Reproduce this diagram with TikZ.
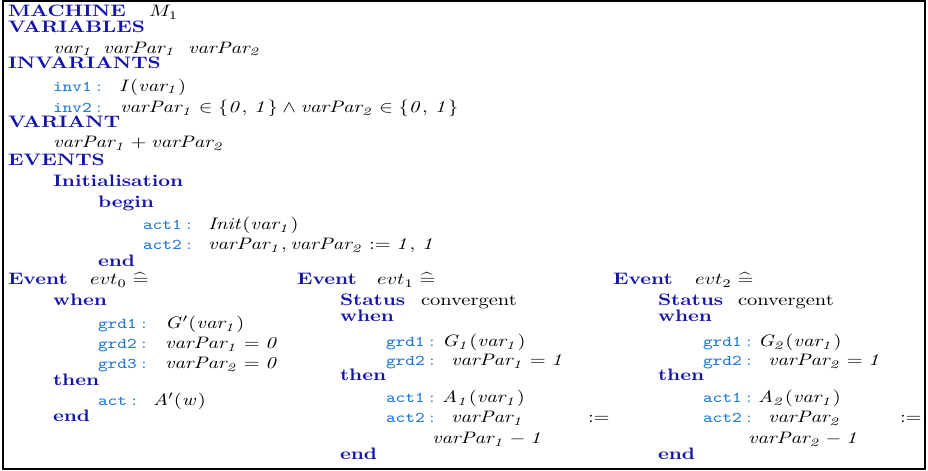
\documentclass[tikz,border=0pt]{standalone}
\usepackage{amsmath,amssymb}
\definecolor{kwblue}{RGB}{20,20,170}
\definecolor{lblblue}{RGB}{30,120,210}
\newcommand{\lblcolon}{\hspace{2.2pt}$:$}
\tikzset{
  txt/.style={anchor=base west, inner sep=0pt, outer sep=0pt},
  kw/.style={txt, font=\bfseries, text=kwblue},
  lbl/.style={txt, font=\small\ttfamily, text=lblblue},
  frame/.style={line width=1pt, draw=black},
}
\begin{document}
\begin{tikzpicture}[x=0.4878pt, y=-0.4878pt]
\useasboundingbox (0,0) rectangle (928,471);
\coordinate (frameTL) at (3,1.2);
\coordinate (frameBR) at (925,469);
\draw[frame] (frameTL) rectangle (frameBR);
% text is set slightly condensed in height
\begin{scope}[yscale=0.81, transform shape, y=-0.6022pt]
% ---- machine header
\node[kw]  (kMach)    at (8,16.7)   {MACHINE};
\node[txt] (mName)    at (149,16.7) {$M_1$};
\node[kw]  (kVars)    at (8,32.3)   {VARIABLES};
\node[txt] (v1)       at (53,53.3)  {$\mathit{var_1}$};
\node[txt] (v2)       at (103,53.3) {$\mathit{varPar_1}$};
\node[txt] (v3)       at (188,53.3) {$\mathit{varPar_2}$};
\node[kw]  (kInv)     at (8,69)     {INVARIANTS};
\node[lbl] (lInv1)    at (53,91.5)  {inv1\lblcolon};
\node[txt] (fInv1)    at (119,91.5) {$\mathit{I(var_1)}$};
\node[lbl] (lInv2)    at (53,113)   {inv2\lblcolon};
\node[txt] (fInv2)    at (120,113)  {$\mathit{varPar_1 \in \{0,\,1\} \land varPar_2 \in \{0,\,1\}}$};
\node[kw]  (kVariant) at (8,128)    {VARIANT};
\node[txt] (fVariant) at (53,148)   {$\mathit{varPar_1 + varPar_2}$};
\node[kw]  (kEvents)  at (8,166)    {EVENTS};
% ---- initialisation
\node[kw]  (kInit)    at (53,187)   {Initialisation};
\node[kw]  (kBegin)   at (98,208)   {begin};
\node[lbl] (lIact1)   at (143,230)  {act1\lblcolon};
\node[txt] (fIact1)   at (208,230)  {$\mathit{Init(var_1)}$};
\node[lbl] (lIact2)   at (143,250)  {act2\lblcolon};
\node[txt] (fIact2)   at (208,250)  {$\mathit{varPar_1, varPar_2 := 1,\,1}$};
\node[kw]  (kIend)    at (98,266.7) {end};
% ---- event evt0
\node[kw]  (e0)     at (8,285)   {Event};
\node[txt] (e0n)    at (90,285)  {$evt_0 \mathrel{\widehat{=}}$};
\node[kw]  (e0when) at (53,306)  {when};
\node[lbl] (e0g1l)  at (98,329)  {grd1\lblcolon};
\node[txt] (e0g1)   at (165,329) {$\mathit{G}'(\mathit{var_1})$};
\node[lbl] (e0g2l)  at (98,349)  {grd2\lblcolon};
\node[txt] (e0g2)   at (165,349) {$\mathit{varPar_1 = 0}$};
\node[lbl] (e0g3l)  at (98,369)  {grd3\lblcolon};
\node[txt] (e0g3)   at (165,369) {$\mathit{varPar_2 = 0}$};
\node[kw]  (e0then) at (53,386)  {then};
\node[lbl] (e0al)   at (98,406)  {act\lblcolon};
\node[txt] (e0a)    at (153,406) {$\mathit{A}'(\mathit{w})$};
\node[kw]  (e0end)  at (53,422)  {end};
% ---- event evt1
\node[kw]  (e1)     at (297,285) {Event};
\node[txt] (e1n)    at (377,285) {$evt_1 \mathrel{\widehat{=}}$};
\node[kw]  (e1st)   at (340,306) {Status};
\node[txt] (e1stv)  at (421,306) {convergent};
\node[kw]  (e1when) at (340,322) {when};
\node[lbl] (e1g1l)  at (386,347) {grd1\lblcolon};
\node[txt] (e1g1)   at (442,347) {$\mathit{G_1(var_1)}$};
\node[lbl] (e1g2l)  at (386,366) {grd2\lblcolon};
\node[txt] (e1g2)   at (451,366) {$\mathit{varPar_1 = 1}$};
\node[kw]  (e1then) at (340,381) {then};
\node[lbl] (e1a1l)  at (386,403) {act1\lblcolon};
\node[txt] (e1a1)   at (442,403) {$\mathit{A_1(var_1)}$};
\node[lbl] (e1a2l)  at (386,423) {act2\lblcolon};
\node[txt] (e1a2)   at (451,423) {$\mathit{varPar_1}$};
\node[txt] (e1as)   at (588,423) {$:=$};
\node[txt] (e1a2r)  at (432,444) {$\mathit{varPar_1 - 1}$};
\node[kw]  (e1end)  at (340,460) {end};
% ---- event evt2
\node[kw]  (e2)     at (613,285) {Event};
\node[txt] (e2n)    at (695,285) {$evt_2 \mathrel{\widehat{=}}$};
\node[kw]  (e2st)   at (658,306) {Status};
\node[txt] (e2stv)  at (738,306) {convergent};
\node[kw]  (e2when) at (658,322) {when};
\node[lbl] (e2g1l)  at (703,347) {grd1\lblcolon};
\node[txt] (e2g1)   at (758,347) {$\mathit{G_2(var_1)}$};
\node[lbl] (e2g2l)  at (703,366) {grd2\lblcolon};
\node[txt] (e2g2)   at (768,366) {$\mathit{varPar_2 = 1}$};
\node[kw]  (e2then) at (658,381) {then};
\node[lbl] (e2a1l)  at (703,403) {act1\lblcolon};
\node[txt] (e2a1)   at (758,403) {$\mathit{A_2(var_1)}$};
\node[lbl] (e2a2l)  at (703,423) {act2\lblcolon};
\node[txt] (e2a2)   at (768,423) {$\mathit{varPar_2}$};
\node[txt] (e2as)   at (900,423) {$:=$};
\node[txt] (e2a2r)  at (748,444) {$\mathit{varPar_2 - 1}$};
\node[kw]  (e2end)  at (658,460) {end};
\end{scope}
\end{tikzpicture}
\end{document}
